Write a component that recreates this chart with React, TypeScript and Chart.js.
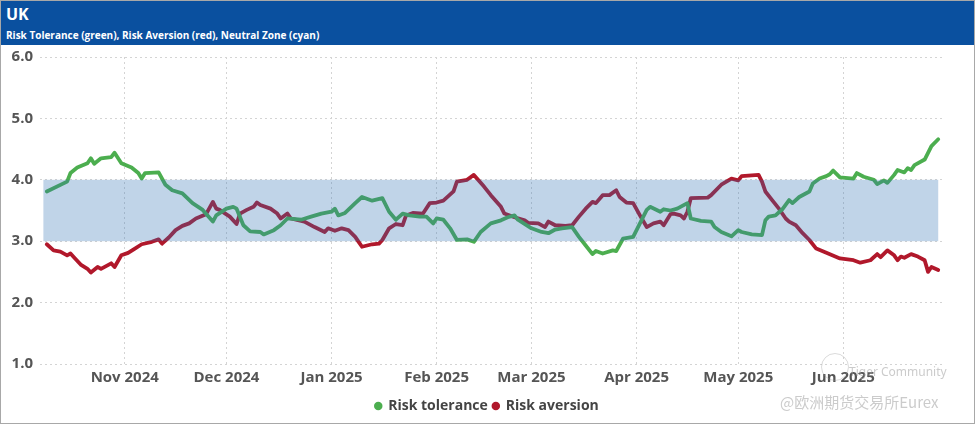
import { useEffect, useRef } from "react";
import { Chart, registerables } from "chart.js";

Chart.register(...registerables);

const TITLE = "UK";
const SUBTITLE = "Risk Tolerance (green), Risk Aversion (red), Neutral Zone (cyan)";
const SERIES_NAMES = ["Risk tolerance", "Risk aversion"];
const X_MIN = "2024-10-07";
const X_MAX = "2025-07-01";
const BAND_START = "2024-10-08";
const NEUTRAL_LOW = 3;
const NEUTRAL_HIGH = 4;
const Y_TICKS = [1, 2, 3, 4, 5, 6];
const MONTH_TICKS = [
  "2024-11-01", "2024-12-01", "2025-01-01", "2025-02-01",
  "2025-03-01", "2025-04-01", "2025-05-01", "2025-06-01",
];
const MONTH_LABELS = [
  "Nov 2024", "Dec 2024", "Jan 2025", "Feb 2025",
  "Mar 2025", "Apr 2025", "May 2025", "Jun 2025",
];

const toleranceDates = [
  "2024-10-09", "2024-10-15", "2024-10-16", "2024-10-18", "2024-10-21", "2024-10-22", "2024-10-23", "2024-10-25",
  "2024-10-28", "2024-10-29", "2024-10-31", "2024-11-03", "2024-11-05", "2024-11-06", "2024-11-07", "2024-11-11",
  "2024-11-13", "2024-11-15", "2024-11-18", "2024-11-21", "2024-11-24", "2024-11-27", "2024-11-28", "2024-12-01",
  "2024-12-03", "2024-12-04", "2024-12-06", "2024-12-08", "2024-12-11", "2024-12-12", "2024-12-15", "2024-12-17",
  "2024-12-19", "2024-12-23", "2024-12-26", "2024-12-29", "2025-01-01", "2025-01-02", "2025-01-03", "2025-01-05",
  "2025-01-08", "2025-01-10", "2025-01-13", "2025-01-16", "2025-01-18", "2025-01-20", "2025-01-22", "2025-01-24",
  "2025-01-27", "2025-01-29", "2025-01-31", "2025-02-01", "2025-02-03", "2025-02-05", "2025-02-07", "2025-02-10",
  "2025-02-12", "2025-02-14", "2025-02-17", "2025-02-20", "2025-02-22", "2025-02-24", "2025-02-25", "2025-03-01",
  "2025-03-04", "2025-03-06", "2025-03-08", "2025-03-10", "2025-03-13", "2025-03-15", "2025-03-17", "2025-03-19",
  "2025-03-20", "2025-03-22", "2025-03-25", "2025-03-26", "2025-03-28", "2025-03-31", "2025-04-02", "2025-04-04",
  "2025-04-05", "2025-04-08", "2025-04-09", "2025-04-11", "2025-04-13", "2025-04-16", "2025-04-17", "2025-04-20",
  "2025-04-23", "2025-04-24", "2025-04-26", "2025-04-29", "2025-05-01", "2025-05-02", "2025-05-05", "2025-05-08",
  "2025-05-09", "2025-05-10", "2025-05-12", "2025-05-14", "2025-05-16", "2025-05-17", "2025-05-19", "2025-05-22",
  "2025-05-23", "2025-05-25", "2025-05-27", "2025-05-28", "2025-05-29", "2025-05-31", "2025-06-04", "2025-06-05",
  "2025-06-07", "2025-06-10", "2025-06-11", "2025-06-13", "2025-06-14", "2025-06-16", "2025-06-17", "2025-06-19",
  "2025-06-20", "2025-06-21", "2025-06-22", "2025-06-25", "2025-06-26", "2025-06-27", "2025-06-29",
];
const toleranceValues = [
  3.81, 3.97, 4.11, 4.2, 4.27, 4.35, 4.26, 4.35,
  4.37, 4.44, 4.27, 4.2, 4.11, 4.02, 4.11, 4.12,
  3.92, 3.83, 3.78, 3.62, 3.51, 3.32, 3.42, 3.53,
  3.56, 3.53, 3.26, 3.16, 3.15, 3.11, 3.18, 3.26,
  3.37, 3.35, 3.4, 3.45, 3.48, 3.53, 3.42, 3.46,
  3.62, 3.72, 3.66, 3.7, 3.48, 3.35, 3.45, 3.42,
  3.4, 3.4, 3.29, 3.37, 3.35, 3.21, 3.02, 3.03,
  2.99, 3.15, 3.29, 3.34, 3.39, 3.42, 3.35, 3.21,
  3.15, 3.13, 3.19, 3.21, 3.23, 3.07, 2.93, 2.79,
  2.84, 2.8, 2.85, 2.84, 3.04, 3.07, 3.29, 3.51,
  3.56, 3.48, 3.52, 3.5, 3.53, 3.62, 3.37, 3.33,
  3.32, 3.23, 3.15, 3.08, 3.18, 3.15, 3.11, 3.1,
  3.34, 3.4, 3.42, 3.52, 3.67, 3.62, 3.72, 3.81,
  3.94, 4.02, 4.06, 4.09, 4.15, 4.04, 4.02, 4.11,
  4.05, 4.0, 3.93, 3.99, 3.95, 4.08, 4.16, 4.12,
  4.19, 4.16, 4.24, 4.33, 4.44, 4.55, 4.66,
];

const aversionDates = [
  "2024-10-09", "2024-10-11", "2024-10-13", "2024-10-15", "2024-10-16", "2024-10-17", "2024-10-19", "2024-10-21",
  "2024-10-22", "2024-10-24", "2024-10-25", "2024-10-28", "2024-10-29", "2024-10-31", "2024-11-02", "2024-11-04",
  "2024-11-06", "2024-11-09", "2024-11-11", "2024-11-12", "2024-11-14", "2024-11-16", "2024-11-18", "2024-11-20",
  "2024-11-22", "2024-11-25", "2024-11-27", "2024-11-28", "2024-11-29", "2024-12-02", "2024-12-04", "2024-12-05",
  "2024-12-07", "2024-12-09", "2024-12-10", "2024-12-11", "2024-12-14", "2024-12-16", "2024-12-17", "2024-12-19",
  "2024-12-20", "2024-12-24", "2024-12-27", "2024-12-30", "2024-12-31", "2025-01-02", "2025-01-04", "2025-01-06",
  "2025-01-08", "2025-01-09", "2025-01-10", "2025-01-13", "2025-01-15", "2025-01-16", "2025-01-18", "2025-01-20",
  "2025-01-22", "2025-01-23", "2025-01-25", "2025-01-28", "2025-01-30", "2025-02-01", "2025-02-03", "2025-02-06",
  "2025-02-07", "2025-02-10", "2025-02-12", "2025-02-15", "2025-02-17", "2025-02-20", "2025-02-21", "2025-02-24",
  "2025-02-27", "2025-02-28", "2025-03-03", "2025-03-05", "2025-03-06", "2025-03-08", "2025-03-11", "2025-03-13",
  "2025-03-15", "2025-03-17", "2025-03-19", "2025-03-20", "2025-03-22", "2025-03-24", "2025-03-26", "2025-03-27",
  "2025-03-29", "2025-03-31", "2025-04-02", "2025-04-04", "2025-04-06", "2025-04-08", "2025-04-09", "2025-04-11",
  "2025-04-12", "2025-04-14", "2025-04-15", "2025-04-16", "2025-04-17", "2025-04-22", "2025-04-23", "2025-04-26",
  "2025-04-29", "2025-05-01", "2025-05-02", "2025-05-07", "2025-05-08", "2025-05-09", "2025-05-11", "2025-05-13",
  "2025-05-15", "2025-05-16", "2025-05-18", "2025-05-20", "2025-05-22", "2025-05-24", "2025-05-27", "2025-05-31",
  "2025-06-04", "2025-06-06", "2025-06-09", "2025-06-11", "2025-06-12", "2025-06-14", "2025-06-16", "2025-06-17",
  "2025-06-18", "2025-06-19", "2025-06-21", "2025-06-23", "2025-06-25", "2025-06-26", "2025-06-27", "2025-06-29",
];
const aversionValues = [
  2.95, 2.85, 2.83, 2.77, 2.8, 2.74, 2.62, 2.55,
  2.49, 2.58, 2.55, 2.64, 2.58, 2.77, 2.81, 2.88,
  2.95, 2.99, 3.03, 2.96, 3.06, 3.18, 3.25, 3.29,
  3.37, 3.44, 3.64, 3.53, 3.51, 3.4, 3.28, 3.45,
  3.51, 3.56, 3.63, 3.59, 3.53, 3.45, 3.37, 3.45,
  3.37, 3.32, 3.23, 3.15, 3.21, 3.17, 3.21, 3.18,
  3.07, 2.99, 2.91, 2.95, 2.96, 3.02, 3.21, 3.28,
  3.26, 3.42, 3.46, 3.45, 3.62, 3.63, 3.66, 3.81,
  3.97, 4.0, 4.08, 3.89, 3.75, 3.56, 3.45, 3.39,
  3.34, 3.3, 3.29, 3.23, 3.32, 3.26, 3.25, 3.26,
  3.4, 3.53, 3.64, 3.62, 3.75, 3.75, 3.83, 3.72,
  3.63, 3.62, 3.42, 3.23, 3.29, 3.32, 3.26, 3.44,
  3.45, 3.42, 3.37, 3.48, 3.7, 3.71, 3.75, 3.92,
  4.02, 3.99, 4.06, 4.08, 3.97, 3.81, 3.67, 3.53,
  3.37, 3.32, 3.26, 3.13, 3.02, 2.88, 2.81, 2.72,
  2.69, 2.65, 2.69, 2.79, 2.74, 2.85, 2.77, 2.69,
  2.75, 2.73, 2.79, 2.75, 2.69, 2.5, 2.58, 2.53,
];

const GREEN = "#4cae4f";
const RED = "#b1182b";
const BAND = "rgba(45, 112, 178, 0.3)";
const FONT = "'Open Sans', 'Noto Sans', sans-serif";

function toDay(s: string): number {
  const [y, m, d] = s.split("-").map(Number);
  return Date.UTC(y, m - 1, d) / 86400000;
}

const bandPlugin = {
  id: "neutralBand",
  afterDatasetsDraw(chart: any) {
    const { ctx, scales } = chart;
    const x = scales.x;
    const y = scales.y;
    const x0 = x.getPixelForValue(toDay(BAND_START));
    const x1 = x.getPixelForValue(toDay(toleranceDates[toleranceDates.length - 1]));
    const yTop = y.getPixelForValue(NEUTRAL_HIGH);
    const yBot = y.getPixelForValue(NEUTRAL_LOW);
    ctx.save();
    ctx.fillStyle = BAND;
    ctx.fillRect(x0, yTop, x1 - x0, yBot - yTop);
    ctx.restore();
  },
};

// centre the legend under the whole card rather than under the padded box
const legendShiftPlugin = {
  id: "legendShift",
  afterLayout(chart: any) {
    const lg = chart.legend;
    if (!lg) return;
    lg.left += 14;
    lg.right += 14;
    lg.top += 2;
    lg.bottom += 2;
  },
};

export default function App() {
  const canvasRef = useRef<HTMLCanvasElement | null>(null);

  useEffect(() => {
    document.body.style.margin = "0";
    const canvas = canvasRef.current;
    if (!canvas) return;
    const gridColor = "#d4d4d4";
    const chart = new Chart(canvas, {
      type: "line",
      data: {
        datasets: [
          {
            label: SERIES_NAMES[0],
            data: toleranceDates.map((d, i) => ({ x: toDay(d), y: toleranceValues[i] })),
            borderColor: GREEN,
            backgroundColor: GREEN,
            borderWidth: 3.8,
            pointRadius: 0,
            tension: 0,
            borderJoinStyle: "round",
            borderCapStyle: "round",
          },
          {
            label: SERIES_NAMES[1],
            data: aversionDates.map((d, i) => ({ x: toDay(d), y: aversionValues[i] })),
            borderColor: RED,
            backgroundColor: RED,
            borderWidth: 3.8,
            pointRadius: 0,
            tension: 0,
            borderJoinStyle: "round",
            borderCapStyle: "round",
          },
        ],
      },
      options: {
        animation: false,
        responsive: true,
        maintainAspectRatio: false,
        layout: { padding: { top: 12, right: 27, bottom: 0, left: 0 } },
        plugins: {
          tooltip: { enabled: false },
          legend: {
            position: "bottom",
            labels: {
              usePointStyle: true,
              pointStyle: "circle",
              boxWidth: 6,
              boxHeight: 6,
              padding: 5,
              color: "#444",
              font: { family: FONT, size: 14, weight: "bold" },
              generateLabels: (c: any) =>
                Chart.defaults.plugins.legend.labels
                  .generateLabels(c)
                  .map((it: any) => ({ ...it, lineWidth: 0 })),
            },
          },
        },
        scales: {
          x: {
            type: "linear",
            min: toDay(X_MIN),
            max: toDay(X_MAX),
            afterBuildTicks: (s: any) => {
              s.ticks = MONTH_TICKS.map((t) => ({ value: toDay(t) }));
            },
            afterFit: (s: any) => {
              s.paddingLeft = 0;
              s.paddingRight = 0;
            },
            ticks: {
              autoSkip: false,
              maxRotation: 0,
              padding: 5,
              color: "#555",
              font: { family: FONT, size: 15, weight: "bold" },
              callback: (v: any) => {
                const i = MONTH_TICKS.findIndex((t) => toDay(t) === Number(v));
                return i >= 0 ? MONTH_LABELS[i] : "";
              },
            },
            grid: { color: gridColor, drawTicks: false, lineWidth: 1 },
            border: { display: false, dash: [2, 3] },
          },
          y: {
            min: 1,
            max: 6,
            afterBuildTicks: (s: any) => {
              s.ticks = Y_TICKS.map((v) => ({ value: v }));
            },
            afterFit: (s: any) => {
              s.width = 39;
              s.paddingTop = 0;
              s.paddingBottom = 0;
            },
            ticks: {
              padding: 7,
              color: "#555",
              font: { family: FONT, size: 15, weight: "bold" },
              callback: (v: any) => Number(v).toFixed(1),
            },
            grid: { color: gridColor, drawTicks: false, lineWidth: 1 },
            border: { display: false, dash: [2, 3] },
          },
        },
      },
      plugins: [bandPlugin, legendShiftPlugin],
    } as any);
    return () => chart.destroy();
  }, []);

  return (
    <div
      style={{
        position: "absolute",
        left: 0,
        top: 0,
        width: 973,
        height: 422,
        border: "1px solid #a8a8a8",
        background: "#fff",
        overflow: "hidden",
        fontFamily: FONT,
      }}
    >
      <div
        style={{
          height: 44,
          background: "#0a509f",
          color: "#fff",
          position: "relative",
        }}
      >
        <div style={{ position: "absolute", left: 5, top: 2, fontSize: 16, fontWeight: 700 }}>{TITLE}</div>
        <div style={{ position: "absolute", left: 5, top: 27, fontSize: 10, fontWeight: 700 }}>{SUBTITLE}</div>
      </div>
      <div style={{ position: "relative", width: 971, height: 376 }}>
        <canvas ref={canvasRef} />
      </div>
      <div
        style={{
          position: "absolute",
          left: 820,
          top: 352,
          width: 26,
          height: 26,
          borderRadius: "50%",
          border: "1px solid rgba(150,150,150,0.35)",
        }}
      />
      <div
        style={{
          position: "absolute",
          left: 848,
          top: 362,
          fontSize: 12,
          color: "rgba(160,160,160,0.55)",
          fontFamily: "'Noto Sans', sans-serif",
        }}
      >
        Tiger Community
      </div>
      <div
        style={{
          position: "absolute",
          left: 779,
          top: 390,
          fontSize: 15,
          color: "rgba(160,160,160,0.55)",
          fontFamily: "'Noto Sans CJK SC', 'Noto Sans', sans-serif",
        }}
      >
        @欧洲期货交易所Eurex
      </div>
    </div>
  );
}
